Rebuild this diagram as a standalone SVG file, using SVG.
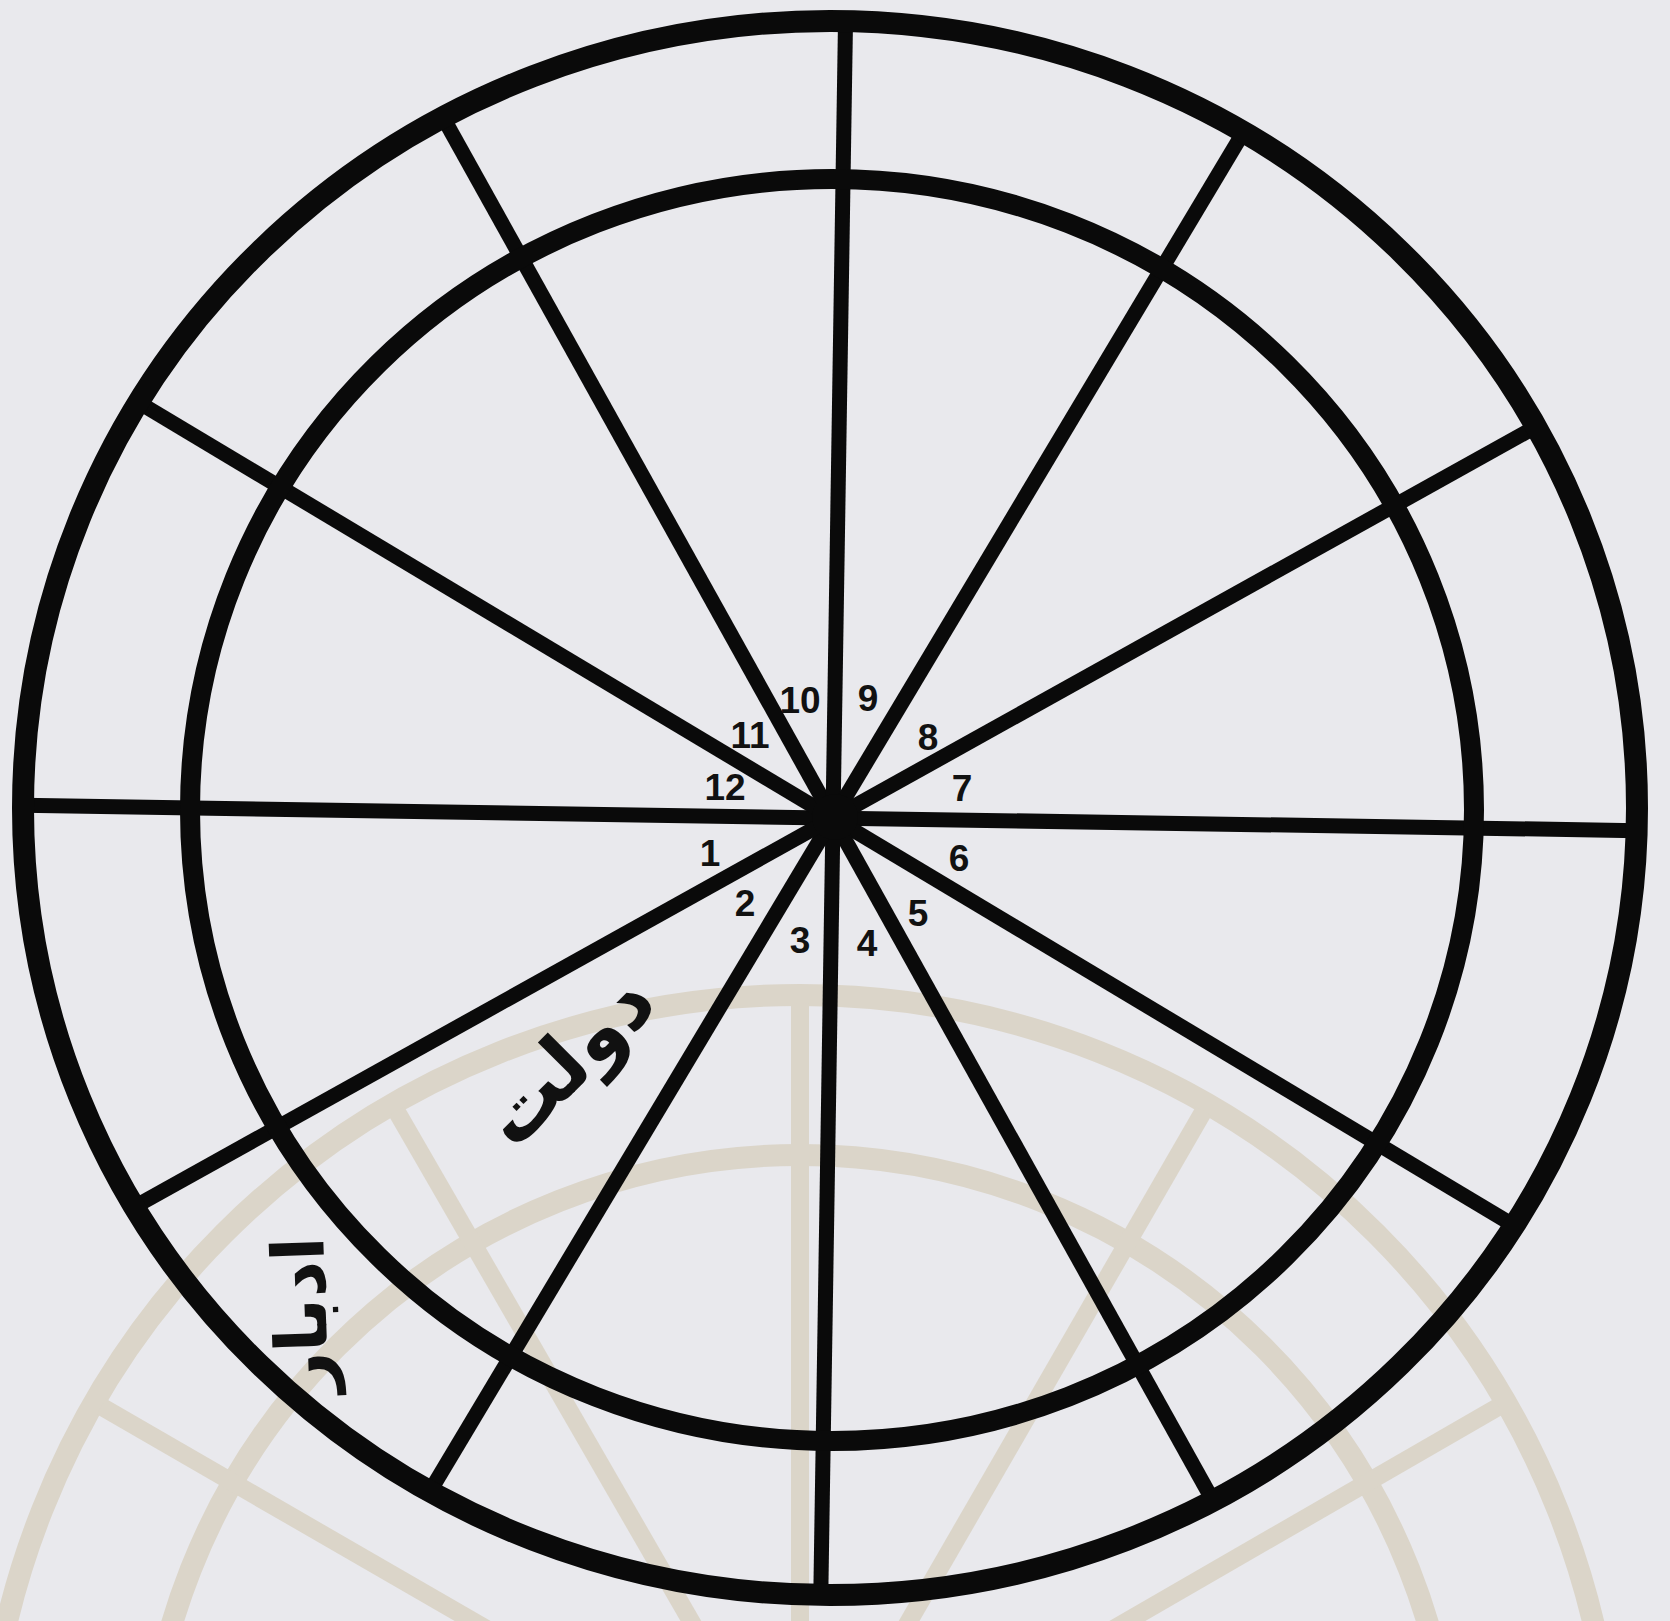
<svg xmlns="http://www.w3.org/2000/svg" width="1670" height="1621" viewBox="0 0 1670 1621">
<style>
.ring{fill:none;stroke:#0a0a0a}
.spoke{stroke:#0a0a0a;stroke-width:15;stroke-linecap:butt}
.num{font-family:"Liberation Sans",Arial,sans-serif;font-weight:bold;font-size:37px;fill:#111;text-anchor:middle}
.ar{font-family:"DejaVu Sans",sans-serif;font-weight:bold;fill:#111;text-anchor:middle}
.ghost{fill:none;stroke:#dbd5c9;stroke-width:22}
</style>
<defs>
<clipPath id="outerClip"><ellipse cx="830" cy="808" rx="807" ry="787"/></clipPath>
<clipPath id="ghostClip"><ellipse cx="800" cy="1810" rx="807" ry="807"/></clipPath>
</defs>
<rect x="0" y="0" width="1670" height="1621" fill="#e9e9ed"/>
<g id="ghost-wheel">
<ellipse class="ghost" cx="800" cy="1810" rx="815" ry="815"/>
<ellipse class="ghost" cx="800" cy="1810" rx="655" ry="655"/>
<g clip-path="url(#ghostClip)" stroke="#dbd5c9" stroke-width="18">
<line x1="800" y1="1810" x2="800" y2="900"/>
<line x1="800" y1="1810" x2="1255" y2="1022"/>
<line x1="800" y1="1810" x2="345" y2="1022"/>
<line x1="800" y1="1810" x2="1588" y2="1355"/>
<line x1="800" y1="1810" x2="12" y2="1355"/>
</g>
</g>
<g id="connectors" clip-path="url(#outerClip)">
<line class="spoke" x1="-100" y1="818" x2="1766" y2="818" transform="rotate(0.9 833 818)"/>
<line class="spoke" x1="-100" y1="818" x2="1766" y2="818" transform="rotate(30.9 833 818)"/>
<line class="spoke" x1="-100" y1="818" x2="1766" y2="818" transform="rotate(60.9 833 818)"/>
<line class="spoke" x1="-100" y1="818" x2="1766" y2="818" transform="rotate(90.9 833 818)"/>
<line class="spoke" x1="-100" y1="818" x2="1766" y2="818" transform="rotate(120.9 833 818)"/>
<line class="spoke" x1="-100" y1="818" x2="1766" y2="818" transform="rotate(150.9 833 818)"/>
</g>
<g id="outer-ring"><ellipse class="ring" cx="830" cy="808" rx="807" ry="787" stroke-width="22"/></g>
<g id="inner-ring"><ellipse class="ring" cx="832" cy="810" rx="642" ry="631" stroke-width="20"/></g>
<g id="hub"><circle cx="835" cy="817" r="23" fill="#0a0a0a"/></g>
<g id="numbers">
<text class="num" x="800" y="713">10</text>
<text class="num" x="868" y="711">9</text>
<text class="num" x="928" y="750">8</text>
<text class="num" x="962" y="801">7</text>
<text class="num" x="959" y="871">6</text>
<text class="num" x="918" y="926">5</text>
<text class="num" x="867" y="956">4</text>
<text class="num" x="800" y="953">3</text>
<text class="num" x="745" y="916">2</text>
<text class="num" x="710" y="866">1</text>
<text class="num" x="725" y="800">12</text>
<text class="num" x="750" y="748">11</text>
</g>
<g id="label-dowlat"><text class="ar" font-size="80" transform="translate(573 1065) rotate(-45)" y="20">دولت</text></g>
<g id="label-idbar"><text class="ar" font-size="72" transform="translate(306 1315) rotate(-92)" y="20">ادبار</text></g>
</svg>
